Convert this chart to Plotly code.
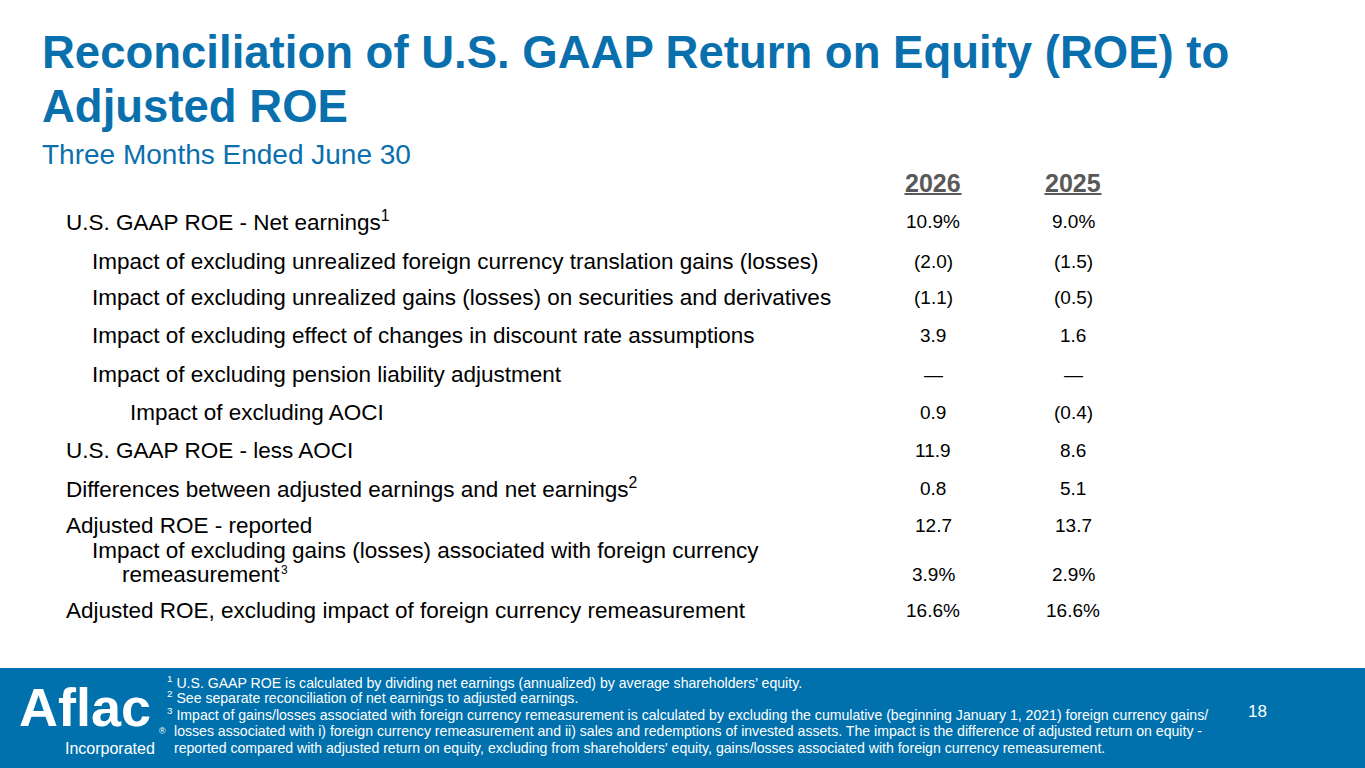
import plotly.graph_objects as go

# --- Table content ---
row_labels = [
    "U.S. GAAP ROE - Net earnings<sup>1</sup>",
    "Impact of excluding unrealized foreign currency translation gains (losses)",
    "Impact of excluding unrealized gains (losses) on securities and derivatives",
    "Impact of excluding effect of changes in discount rate assumptions",
    "Impact of excluding pension liability adjustment",
    "Impact of excluding AOCI",
    "U.S. GAAP ROE - less AOCI",
    "Differences between adjusted earnings and net earnings<sup>2</sup>",
    "Adjusted ROE - reported",
    "Impact of excluding gains (losses) associated with foreign currency",
    "remeasurement",
    "Adjusted ROE, excluding impact of foreign currency remeasurement",
]
row_indent = [0, 1, 1, 1, 1, 2, 0, 0, 0, 1, 3, 0]
years = ["2026", "2025"]
# None = continuation line of the previous label (no values)
values_2026 = ["10.9%", "(2.0)", "(1.1)", "3.9", "—", "0.9", "11.9", "0.8", "12.7", None, "3.9%", "16.6%"]
values_2025 = ["9.0%", "(1.5)", "(0.5)", "1.6", "—", "(0.4)", "8.6", "5.1", "13.7", None, "2.9%", "16.6%"]

footnotes = [
    "<sup>1</sup> U.S. GAAP ROE is calculated by dividing net earnings (annualized) by average shareholders’ equity.",
    "<sup>2</sup> See separate reconciliation of net earnings to adjusted earnings.",
    "<sup>3</sup> Impact of gains/losses associated with foreign currency remeasurement is calculated by excluding the cumulative (beginning January 1, 2021) foreign currency gains/",
    "losses associated with i) foreign currency remeasurement and ii) sales and redemptions of invested assets. The impact is the difference of adjusted return on equity -",
    "reported compared with adjusted return on equity, excluding from shareholders' equity, gains/losses associated with foreign currency remeasurement.",
]
page_number = "18"

# --- Layout (pixels) ---
W, H = 1365, 768
BLUE = "#0a70ad"
FOOT_BLUE = "#0071ad"
FONT = "Liberation Sans, Arial, sans-serif"
row_y = [221, 262, 298, 335, 374, 412, 450, 488, 525, 550, 574, 610]
indent_x = [64, 90, 128, 120]
col_x = [933, 1073]


def px(x, y):
    return x / W, 1 - y / H


fig = go.Figure()
annotations = []


def add_text(x, y, text, size, color="black", xanchor="left", bold=False):
    xp, yp = px(x, y)
    annotations.append(dict(
        x=xp, y=yp, xref="paper", yref="paper", text=f"<b>{text}</b>" if bold else text,
        showarrow=False, xanchor=xanchor, yanchor="middle", align="left",
        font=dict(family=FONT, size=size, color=color),
    ))


# title block
add_text(40, 52, "Reconciliation of U.S. GAAP Return on Equity (ROE) to", 45.5, BLUE, bold=True)
add_text(40, 107, "Adjusted ROE", 45.5, BLUE, bold=True)
add_text(40, 155, "Three Months Ended June 30", 28, BLUE)

# column headers
for cx, yr in zip(col_x, years):
    add_text(cx, 183, yr, 25, "#595959", xanchor="center", bold=True)

# rows
for label, ind, ly, v26, v25 in zip(row_labels, row_indent, row_y, values_2026, values_2025):
    add_text(indent_x[ind], ly, label, 22.5)
    if v26 is not None:
        add_text(col_x[0], ly, v26, 19, xanchor="center")
        add_text(col_x[1], ly, v25, 19, xanchor="center")
# footnote marker of the wrapped row
add_text(279, 570, "3", 12)

# footer
foot_y = [682, 697, 714, 731, 748]
for fy, note in zip(foot_y, footnotes):
    add_text(165 if note.startswith("<sup>") else 172, fy, note, 14.1, "white")
add_text(1257, 711, page_number, 17, "white", xanchor="center")
add_text(17, 707, "Aflac", 54, "white", bold=True)
add_text(63, 748, "Incorporated", 16, "white")
add_text(157, 731, "®", 9, "white")

shapes = [
    dict(type="rect", xref="paper", yref="paper", x0=0, x1=1, y0=0, y1=1 - 668 / H,
         fillcolor=FOOT_BLUE, line_width=0, layer="below"),
]
for cx in col_x:
    shapes.append(dict(type="line", xref="paper", yref="paper",
                       x0=(cx - 28.5) / W, x1=(cx + 28.5) / W, y0=1 - 194 / H, y1=1 - 194 / H,
                       line=dict(color="#595959", width=2)))

fig.update_layout(
    width=W, height=H,
    margin=dict(l=0, r=0, t=0, b=0),
    paper_bgcolor="white", plot_bgcolor="white",
    xaxis=dict(visible=False), yaxis=dict(visible=False),
    annotations=annotations, shapes=shapes, showlegend=False,
)

fig.write_html("out.html", config={"displayModeBar": False},
               post_script="document.body.style.margin='0';")
